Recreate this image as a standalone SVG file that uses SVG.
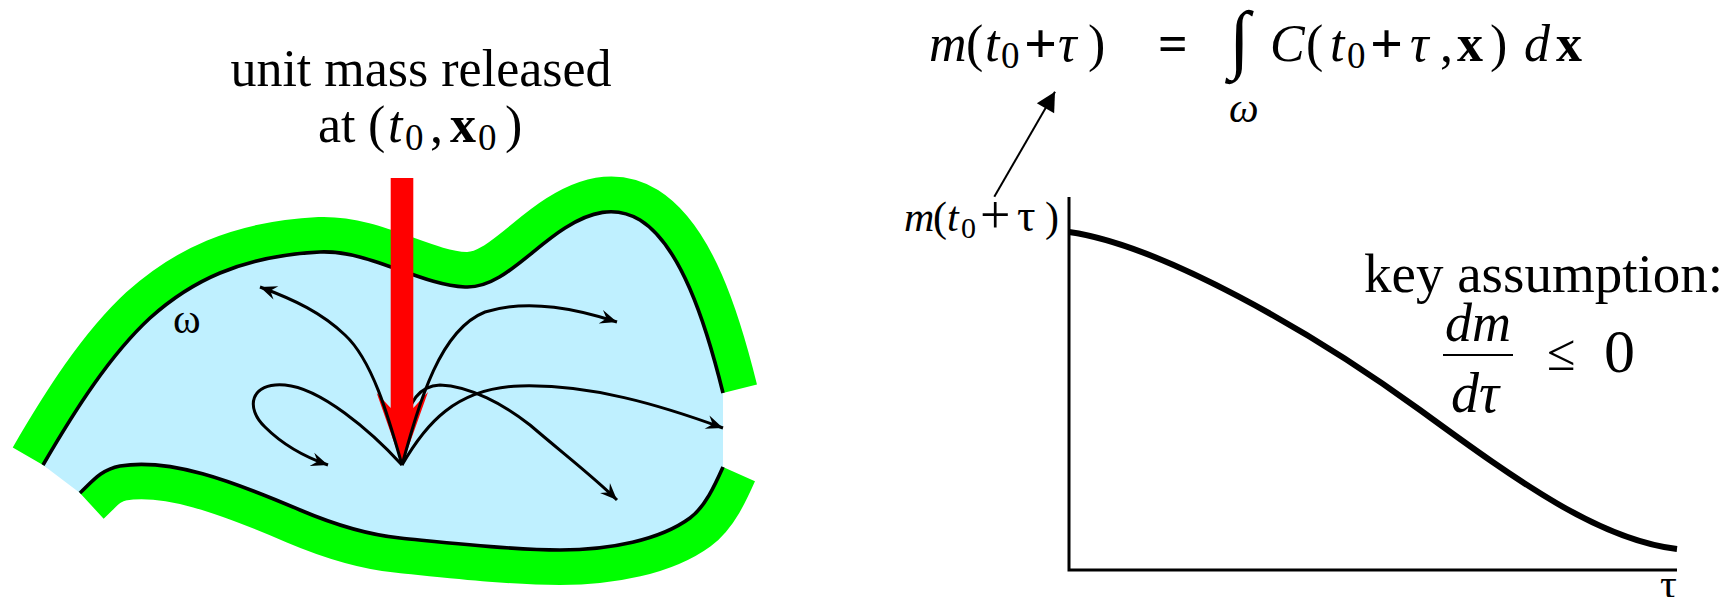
<svg xmlns="http://www.w3.org/2000/svg" width="1724" height="597" viewBox="0 0 1724 597">
<style>
.t{font-family:"Liberation Serif","Times New Roman",serif;fill:#000}
.i{font-style:italic}
.b{font-weight:bold}
.traj{fill:none;stroke:#000;stroke-width:3;stroke-linecap:butt;stroke-linejoin:round}
.band{fill:none;stroke:#00FF00;stroke-width:70;stroke-linecap:butt;stroke-linejoin:round}
.edge{fill:none;stroke:#000;stroke-width:3.6;stroke-linecap:butt}
.axis{fill:none;stroke:#000;stroke-width:3}
</style>
<defs>
<marker id="stealth" viewBox="-19 -9 20 18" refX="0" refY="0" markerWidth="20" markerHeight="18" markerUnits="userSpaceOnUse" orient="auto">
<path d="M0,0 L-17,-7 L-11,0 L-17,7 Z" fill="#000"/>
</marker>
<marker id="tri" viewBox="-20 -11 21 22" refX="0" refY="0" markerWidth="21" markerHeight="22" markerUnits="userSpaceOnUse" orient="auto">
<path d="M0,0 L-19,-10 L-19,10 Z" fill="#000"/>
</marker>
</defs>
<rect width="1724" height="597" fill="#fff"/>

<g id="domain">
<path class="band" d="M43,465 C75,410 110,355 150,318 C190,282 240,256 320,252 C370,250 420,285 465,287 C500,289 530,250 565,228 C590,212 615,205 640,220 C680,245 705,320 723,393"/>
<path class="band" d="M80,493 C92,482 100,470 120,466 C170,458 230,480 300,510 C340,527 370,535 400,538 C450,543 510,550 560,550 C610,550 660,540 690,518 C705,507 715,485 723,467"/>
<path fill="#BFF0FF" d="M43,465 C75,410 110,355 150,318 C190,282 240,256 320,252 C370,250 420,285 465,287 C500,289 530,250 565,228 C590,212 615,205 640,220 C680,245 705,320 723,393 L723,467 C715,485 705,507 690,518 C660,540 610,550 560,550 C510,550 450,543 400,538 C370,535 340,527 300,510 C230,480 170,458 120,466 C100,470 92,482 80,493 Z"/>
<path class="edge" d="M43,465 C75,410 110,355 150,318 C190,282 240,256 320,252 C370,250 420,285 465,287 C500,289 530,250 565,228 C590,212 615,205 640,220 C680,245 705,320 723,393"/>
<path class="edge" d="M80,493 C92,482 100,470 120,466 C170,458 230,480 300,510 C340,527 370,535 400,538 C450,543 510,550 560,550 C610,550 660,540 690,518 C705,507 715,485 723,467"/>
<text class="t" x="173" y="333" font-size="42">ω</text>
</g>

<g id="title">
<text class="t" x="421" y="86" font-size="52" text-anchor="middle">unit mass released</text>
<text class="t" font-size="52" y="142"><tspan x="318">at</tspan><tspan x="368">(</tspan><tspan x="388" class="i">t</tspan><tspan x="405" y="150" font-size="37">0</tspan><tspan x="430" y="142">,</tspan><tspan x="450" class="b">x</tspan><tspan x="478" y="150" font-size="37">0</tspan><tspan x="505" y="142">)</tspan></text>
</g>

<g id="connectors">
<path class="traj" marker-end="url(#stealth)" d="M405,430 C408,400 420,386 440,385 C470,386 505,405 530,425 C565,455 595,478 617,500"/>
</g>

<g id="release-arrow">
<polygon fill="#FF0000" points="390.7,178 413.3,178 413.3,408 428,392 402,465 376.7,393 390.7,408"/>
</g>

<g id="connectors-top">
<path class="traj" marker-end="url(#stealth)" d="M402,465 C388,415 372,360 345,335 C322,313 295,300 260,287"/>
<path class="traj" marker-end="url(#stealth)" d="M402,465 C370,430 320,388 285,385 C250,382 245,408 265,427 C283,445 305,457 328,465"/>
<path class="traj" marker-end="url(#stealth)" d="M402,465 C420,400 440,330 485,312 C530,298 580,310 617,322"/>
<path class="traj" marker-end="url(#stealth)" d="M402,465 C425,425 455,388 520,386 C590,384 660,405 723,428"/>
<line x1="994.3" y1="196.7" x2="1055" y2="91.7" stroke="#000" stroke-width="2" marker-end="url(#tri)"/>
</g>

<g id="equation">
<text class="t" font-size="52" y="61"><tspan x="929" class="i">m</tspan><tspan x="966">(</tspan><tspan x="985" class="i">t</tspan><tspan x="1001" y="68" font-size="37">0</tspan><tspan x="1024" y="63" class="b" font-size="58">+</tspan><tspan x="1058" y="61" class="i">τ</tspan><tspan x="1088">)</tspan><tspan x="1158" class="b">=</tspan><tspan x="1270" class="i">C</tspan><tspan x="1306">(</tspan><tspan x="1330" class="i">t</tspan><tspan x="1347" y="68" font-size="37">0</tspan><tspan x="1370" y="63" class="b" font-size="58">+</tspan><tspan x="1410" y="61" class="i">τ</tspan><tspan x="1440">,</tspan><tspan x="1457" class="b">x</tspan><tspan x="1490">)</tspan><tspan x="1524" class="i">d</tspan><tspan x="1556" class="b">x</tspan></text>
<text class="t i" x="1229" y="64" font-size="76">∫</text>
<text class="t i" x="1229" y="122" font-size="42">ω</text>
</g>

<g id="graph">
<polyline class="axis" points="1069,197 1069,570 1677,570"/>
<path fill="none" stroke="#000" stroke-width="6" d="M1069,232 C1160,245 1310,330 1420,410 C1520,483 1600,540 1677,549"/>
<text class="t" font-size="42" y="231"><tspan x="904" class="i">m</tspan><tspan x="933">(</tspan><tspan x="947" class="i">t</tspan><tspan x="961" y="238" font-size="30">0</tspan><tspan x="980" y="233" font-size="54">+</tspan><tspan x="1017" y="231" font-size="46">τ</tspan><tspan x="1045">)</tspan></text>
<text class="t" x="1660" y="598" font-size="42">τ</text>
</g>

<g id="assumption">
<text class="t" x="1364" y="292" font-size="55">key assumption:</text>
<text class="t i" x="1478" y="341" font-size="54" text-anchor="middle">dm</text>
<line x1="1443" y1="355" x2="1513" y2="355" stroke="#000" stroke-width="2"/>
<text class="t i" x="1475" y="412" font-size="56" text-anchor="middle">dτ</text>
<text class="t" x="1547" y="370" font-size="52">≤</text>
<text class="t" x="1604" y="372" font-size="62">0</text>
</g>
</svg>
